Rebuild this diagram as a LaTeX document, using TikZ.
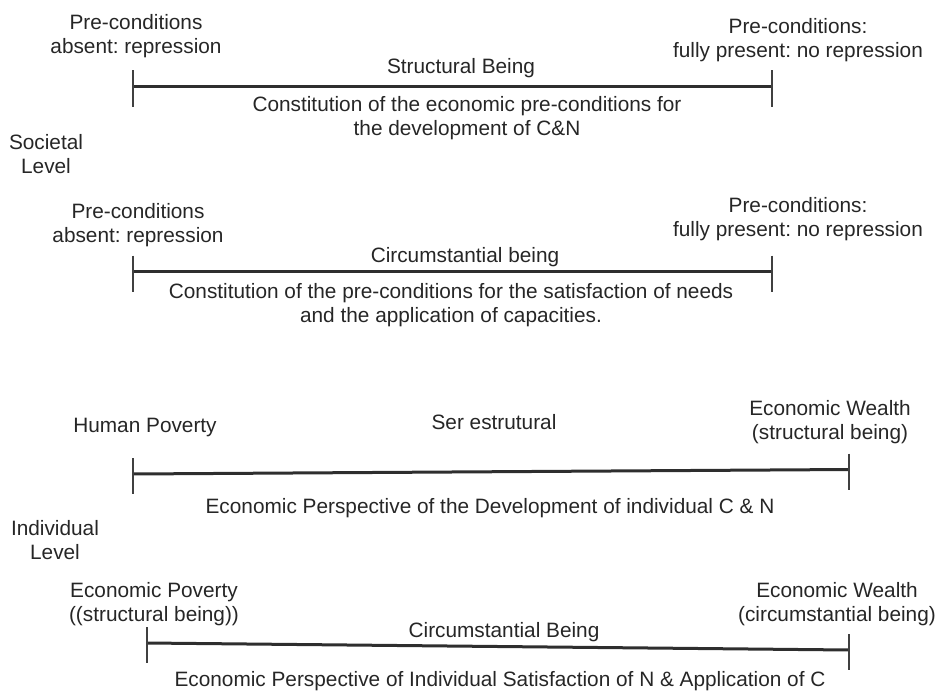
\documentclass[tikz,border=0pt]{standalone}
\usepackage{fontspec}
\setmainfont{Liberation Sans}
\frenchspacing
\begin{document}
\begin{tikzpicture}[x=1pt, y=-1pt,
    lbl/.style={align=center, inner sep=0pt, text=black!85, font=\fontsize{20.8}{24}\selectfont},
    bar/.style={draw=black!82, line width=3pt},
    tick/.style={draw=black!75, line width=1.6pt}]
  \useasboundingbox (0,0) rectangle (937,693);

  % societal level
  \node[lbl] (absA)  at (136,36)  {Pre-conditions\\absent: repression};
  \node[lbl] (fullA) at (798,40)  {Pre-conditions:\\fully present: no repression};
  \node[lbl] (structA) at (461,68) {Structural Being};
  \node[lbl] (constA) at (467,118) {Constitution of the economic pre-conditions for\\the development of C\&N};
  \node[lbl] (societal) at (46,154) {Societal\\Level};

  \node[lbl] (absB)  at (138,225) {Pre-conditions\\absent: repression};
  \node[lbl] (fullB) at (798,219) {Pre-conditions:\\fully present: no repression};
  \node[lbl] (circB) at (465,257) {Circumstantial being};
  \node[lbl] (constB) at (451,305) {Constitution of the pre-conditions for the satisfaction of needs\\and the application of capacities.};

  % individual level
  \node[lbl] (humanPov) at (145,427) {Human Poverty};
  \node[lbl] (serEst)   at (494,422) {Ser estrutural};
  \node[lbl] (wealthA)  at (830,422) {Economic Wealth\\(structural being)};
  \node[lbl] (perspA)   at (490,508) {Economic Perspective of the Development of individual C \& N};
  \node[lbl] (individual) at (55,540) {Individual\\Level};

  \node[lbl] (econPov) at (154,604) {Economic Poverty\\((structural being))};
  \node[lbl] (wealthB) at (837,604) {Economic Wealth\\(circumstantial being)};
  \node[lbl] (circBeing) at (504,632) {Circumstantial Being};
  \node[lbl] (perspB) at (500,681) {Economic Perspective of Individual Satisfaction of N \& Application of C};

  % scales
  \coordinate (a1) at (133,86.5);  \coordinate (a2) at (772,86.5);
  \coordinate (b1) at (133,271.5); \coordinate (b2) at (772,271.5);
  \coordinate (c1) at (133,474);   \coordinate (c2) at (849,469.5);
  \coordinate (d1) at (147,643);   \coordinate (d2) at (849,650);
  \draw[bar] (a1) -- (a2);
  \draw[bar] (b1) -- (b2);
  \draw[bar] (c1) -- (c2);
  \draw[bar] (d1) -- (d2);
  \foreach \p in {a1,a2,b1,b2,c1,c2,d1,d2}
    \draw[tick] ([yshift=16pt]\p) -- ([yshift=-20pt]\p);
\end{tikzpicture}
\end{document}
